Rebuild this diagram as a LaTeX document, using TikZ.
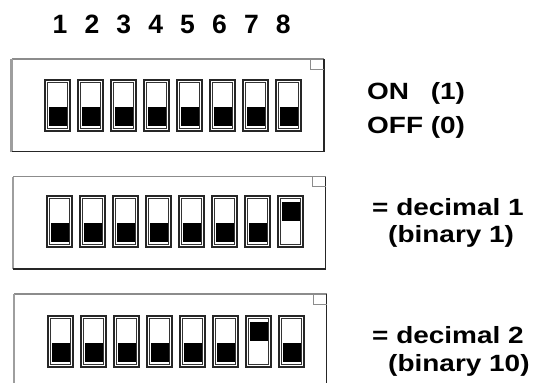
\documentclass[tikz,border=0pt]{standalone}
\usepackage{fontspec}
\usepackage{graphicx}
\setmainfont{Liberation Sans}
% wide bold caption text
\newcommand\widetext[1]{\scalebox{1.19}[1]{#1}}
\tikzset{
  colnum/.style={anchor=base, inner sep=0pt, font=\fontsize{26.5}{30}\selectfont\bfseries},
  caption/.style={anchor=base west, inner sep=0pt, font=\fontsize{23.5}{28}\selectfont\bfseries},
  housing light/.style={draw=black!45, line width=1.5pt},
  housing left/.style={draw=black!38, line width=2.4pt},
  housing dark/.style={draw=black!85, line width=1.3pt},
  notch/.style={draw=black!45, line width=1pt},
  swouter/.style={draw=black!85, line width=1.6pt},
  swinner/.style={draw=black!80, line width=0.9pt},
  lever/.style={fill=black}
}
\begin{document}
\begin{tikzpicture}[x=1pt,y=-1pt]
\useasboundingbox (0,0) rectangle (542,383);
\clip (0,0) rectangle (542,383);
% column numbers above the switches
\foreach \i in {1,...,8}
  \node[colnum] (n\i) at ({60+31.9*(\i-1)},33) {\i};
% three DIP-switch housings: row / housing corner / first switch corner / lever that is up
\foreach \r/\bx/\by/\sx/\sy/\up in {1/11.5/59/45/80/0, 2/13/176.5/47/196/8, 3/14/294/48/316/7} {
  \coordinate (h\r) at (\bx,\by);
  \draw[housing light] (\bx,\by) -- (\bx+312.5,\by);
  \draw[housing left] (\bx,\by+92.5) -- (\bx,\by);
  \draw[housing dark] (\bx+312.5,\by) -- (\bx+312.5,\by+92.5) -- (\bx,\by+92.5);
  \draw[notch] (\bx+299,\by) |- (\bx+312.5,\by+10);
  \foreach \i in {1,...,8} {
    \pgfmathsetmacro\L{\sx+33*(\i-1)}
    \draw[swouter] (\L,\sy) rectangle (\L+25,\sy+51);
    \draw[swinner] (\L+2.6,\sy+2.6) rectangle (\L+22.4,\sy+48.4);
    \ifnum\i=\up
      \fill[lever] (\L+3.5,\sy+6) rectangle (\L+21.5,\sy+25);
    \else
      \fill[lever] (\L+3.5,\sy+27) rectangle (\L+21.5,\sy+45.5);
    \fi
  }
}
% captions
\node[caption] (on) at (367,99) {\widetext{\rlap{ON}\hphantom{OFF} (1)}};
\node[caption] (off) at (367,133) {\widetext{OFF (0)}};
\node[caption] (dec1) at (372,215) {\widetext{= decimal 1}};
\node[caption] (bin1) at (388,242) {\widetext{(binary 1)}};
\node[caption] (dec2) at (372,343) {\widetext{= decimal 2}};
\node[caption] (bin2) at (388,371) {\widetext{(binary 10)}};
\end{tikzpicture}
\end{document}
